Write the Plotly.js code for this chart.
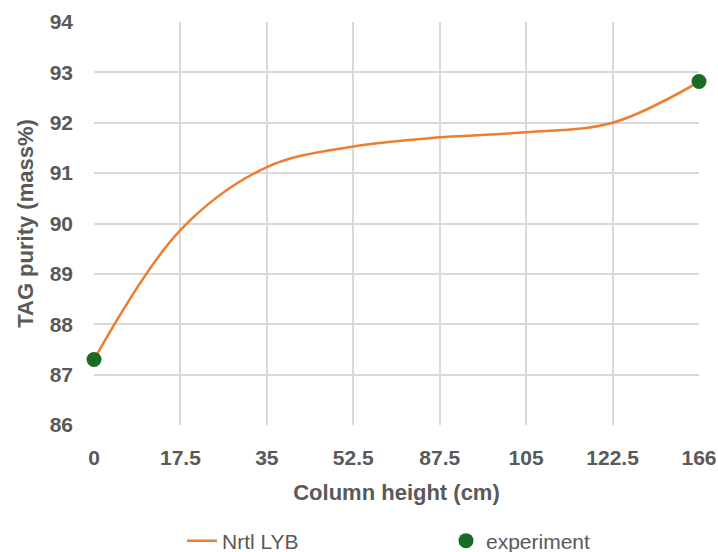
<!DOCTYPE html>
<html>
<head>
<meta charset="utf-8">
<script src="https://cdn.plot.ly/plotly-3.0.1.min.js"></script>
<style>html,body{margin:0;padding:0;background:#fff;}#chart{width:718px;height:552px;}</style>
</head>
<body>
<div id="chart"></div>
<script>
const heights = ['0', '17.5', '35', '52.5', '87.5', '105', '122.5', '166'];
const nrtlPurity = [87.3, 89.87, 91.12, 91.53, 91.71, 91.81, 92.0, 92.81];
const expHeights = ['0', '166'];
const expPurity = [87.3, 92.82];

const txt = '#595959';
const fam = 'Liberation Sans, Arial, sans-serif';

const traces = [
  {
    x: heights, y: nrtlPurity, name: 'Nrtl LYB', type: 'scatter', mode: 'lines',
    line: {color: '#ED7D31', width: 2.5, shape: 'spline', smoothing: 1},
    cliponaxis: false, legend: 'legend'
  },
  {
    x: expHeights, y: expPurity, name: 'experiment', type: 'scatter', mode: 'markers',
    marker: {color: '#1B6B23', size: 15},
    cliponaxis: false, legend: 'legend2'
  }
];

const legendBase = {
  orientation: 'h', xanchor: 'left', yanchor: 'middle',
  xref: 'container', yref: 'container', y: 1 - 541 / 552,
  bgcolor: 'rgba(0,0,0,0)',
  font: {family: fam, size: 21, color: txt}
};

const layout = {
  width: 718, height: 552,
  margin: {l: 94, r: 19, t: 22, b: 127},
  paper_bgcolor: '#fff', plot_bgcolor: '#fff',
  font: {family: fam, color: txt},
  showlegend: true,
  xaxis: {
    type: 'category', categoryorder: 'array', categoryarray: heights,
    range: [0, 7], automargin: false,
    showgrid: true, gridcolor: '#d9d9d9', gridwidth: 2,
    showline: false, zeroline: false,
    ticks: '', ticklabelstandoff: 18,
    tickfont: {family: fam, size: 21, color: txt, weight: 'bold'},
    title: {text: 'Column height (cm)', font: {family: fam, size: 22, color: txt, weight: 'bold'}, standoff: 16}
  },
  yaxis: {
    range: [86, 94], dtick: 1, automargin: false,
    showgrid: true, gridcolor: '#d9d9d9', gridwidth: 2,
    showline: false, zeroline: false,
    ticks: '', ticklabelstandoff: 20,
    tickfont: {family: fam, size: 21, color: txt, weight: 'bold'},
    title: {text: 'TAG purity (mass%)', font: {family: fam, size: 22, color: txt, weight: 'bold'}, standoff: 9}
  },
  legend: Object.assign({}, legendBase, {x: 182 / 718}),
  legend2: Object.assign({}, legendBase, {x: 446 / 718})
};

Plotly.newPlot('chart', traces, layout, {displayModeBar: false, staticPlot: true});
</script>
</body>
</html>
